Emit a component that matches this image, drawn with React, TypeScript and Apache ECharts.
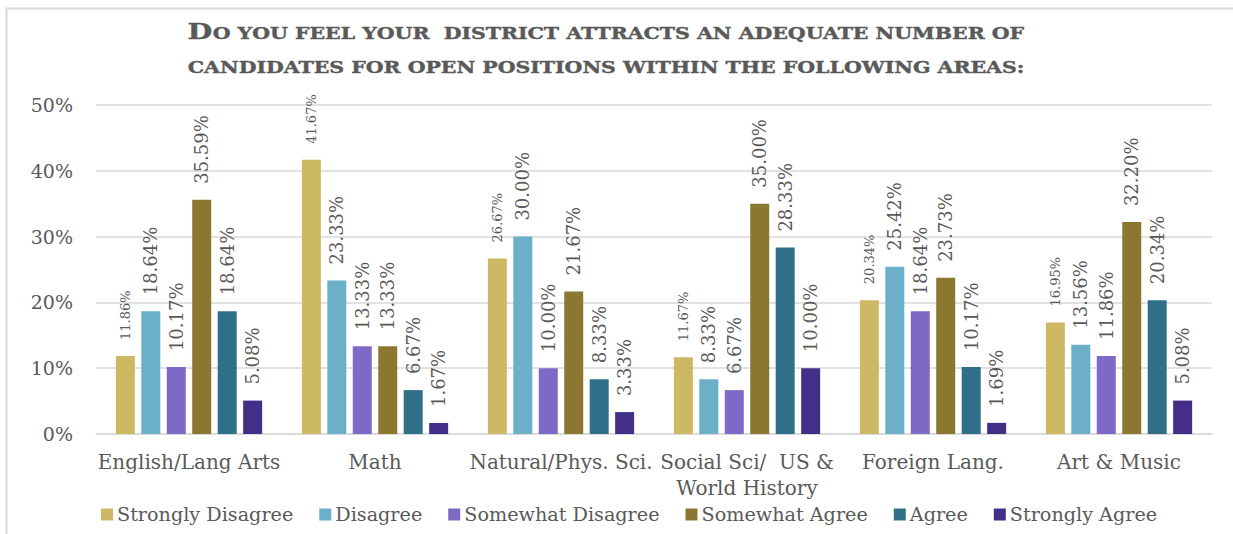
import React, { useEffect, useRef } from "react";
import * as echarts from "echarts";

const categories = [
  "English/Lang Arts",
  "Math",
  "Natural/Phys. Sci.",
  "Social Sci/  US &\nWorld History",
  "Foreign Lang.",
  "Art & Music",
];
const seriesNames = [
  "Strongly Disagree",
  "Disagree",
  "Somewhat Disagree",
  "Somewhat Agree",
  "Agree",
  "Strongly Agree",
];
const stronglyDisagree = [11.86, 41.67, 26.67, 11.67, 20.34, 16.95];
const disagree = [18.64, 23.33, 30.0, 8.33, 25.42, 13.56];
const somewhatDisagree = [10.17, 13.33, 10.0, 6.67, 18.64, 11.86];
const somewhatAgree = [35.59, 13.33, 21.67, 35.0, 23.73, 32.2];
const agree = [18.64, 6.67, 8.33, 28.33, 10.17, 20.34];
const stronglyAgree = [5.08, 1.67, 3.33, 10.0, 1.69, 5.08];
const seriesValues = [stronglyDisagree, disagree, somewhatDisagree, somewhatAgree, agree, stronglyAgree];
const colors = ["#CDB864", "#6BAFC9", "#7E69C6", "#8C7731", "#2F6F88", "#432E88"];
const titleLine1First = "D";
const titleLine1Rest = "O YOU FEEL YOUR  DISTRICT ATTRACTS AN ADEQUATE NUMBER OF";
const titleLine2 = "CANDIDATES FOR OPEN POSITIONS WITHIN THE FOLLOWING AREAS:";

const FONT = "DejaVu Serif";
const GRAY = "#595959";

function measure(text: string, font: string): number {
  const c = document.createElement("canvas");
  const ctx = c.getContext("2d");
  if (!ctx) return text.length * 10;
  ctx.font = font;
  return ctx.measureText(text).width;
}

export default function App() {
  const ref = useRef<HTMLDivElement>(null);
  useEffect(() => {
    if (!ref.current) return;
    const chart = echarts.init(ref.current, null, { renderer: "svg" });
    const bigSize = 23;
    const smallSize = 16.5;
    const targetW = 837;
    const w1 =
      measure(titleLine1First, `bold ${bigSize}px "${FONT}"`) +
      measure(titleLine1Rest, `bold ${smallSize}px "${FONT}"`);
    const w2 = measure(titleLine2, `bold ${smallSize}px "${FONT}"`);
    const s1 = targetW / w1;
    const s2 = targetW / w2;
    const titleCx = 606;

    const option: any = {
      animation: false,
      backgroundColor: "#ffffff",
      textStyle: { fontFamily: FONT },
      graphic: [
        {
          type: "rect",
          shape: { x: 6.5, y: 8.5, width: 1260, height: 560 },
          style: { fill: "none", stroke: "#D9D9D9", lineWidth: 2 },
          silent: true,
        },
        {
          type: "text",
          x: titleCx,
          y: 42.5,
          scaleX: s1,
          style: {
            text: `{a|${titleLine1First}}{b|${titleLine1Rest}}`,
            align: "center",
            verticalAlign: "bottom",
            rich: {
              a: { fontSize: bigSize, fontWeight: "bold", fontFamily: FONT, fill: GRAY, stroke: GRAY, lineWidth: 0.4, verticalAlign: "bottom" },
              b: { fontSize: smallSize, fontWeight: "bold", fontFamily: FONT, fill: GRAY, stroke: GRAY, lineWidth: 0.4, verticalAlign: "bottom", padding: [0, 0, 1, 0] },
            },
          },
        },
        {
          type: "text",
          x: titleCx,
          y: 67.5,
          scaleX: s2,
          style: {
            text: titleLine2,
            align: "center",
            verticalAlign: "middle",
            fontSize: smallSize,
            fontWeight: "bold",
            fontFamily: FONT,
            fill: GRAY,
            stroke: GRAY,
            lineWidth: 0.4,
          },
        },
      ],
      legend: {
        data: seriesNames,
        left: 96,
        top: 500,
        icon: "rect",
        itemWidth: 12,
        itemHeight: 12,
        itemGap: 26,
        textStyle: { fontFamily: FONT, fontSize: 19.2, color: GRAY, padding: [0, 0, 0, -1] },
      },
      grid: { left: 96, right: 21, top: 105, bottom: 100, containLabel: false },
      xAxis: {
        type: "category",
        data: categories,
        axisLine: { show: true, lineStyle: { color: "#D9D9D9", width: 1.5 } },
        axisTick: { show: false },
        axisLabel: {
          fontFamily: FONT,
          fontSize: 20,
          color: GRAY,
          margin: 15,
          lineHeight: 26,
          interval: 0,
        },
      },
      yAxis: {
        type: "value",
        min: 0,
        max: 50,
        interval: 10,
        axisLine: { show: false },
        axisTick: { show: false },
        splitLine: { lineStyle: { color: "#D9D9D9", width: 1.5 } },
        axisLabel: {
          formatter: "{value}%",
          fontFamily: FONT,
          fontSize: 19,
          color: GRAY,
          margin: 23,
        },
      },
      series: seriesNames.map((name, i) => ({
        name,
        type: "bar",
        data: seriesValues[i],
        barWidth: 19,
        barGap: "34%",
        itemStyle: { color: colors[i] },
        label: {
          show: true,
          position: "top",
          rotate: 90,
          align: "left",
          verticalAlign: "middle",
          distance: 16,
          fontFamily: FONT,
          fontSize: i === 0 ? 13 : 18,
          color: GRAY,
          formatter: (p: any) => `${Number(p.value).toFixed(2)}%`,
        },
      })),
    };
    chart.setOption(option);
    return () => chart.dispose();
  }, []);
  return (
    <div
      ref={ref}
      style={{ position: "absolute", left: 0, top: 0, width: 1233, height: 534 }}
    />
  );
}
